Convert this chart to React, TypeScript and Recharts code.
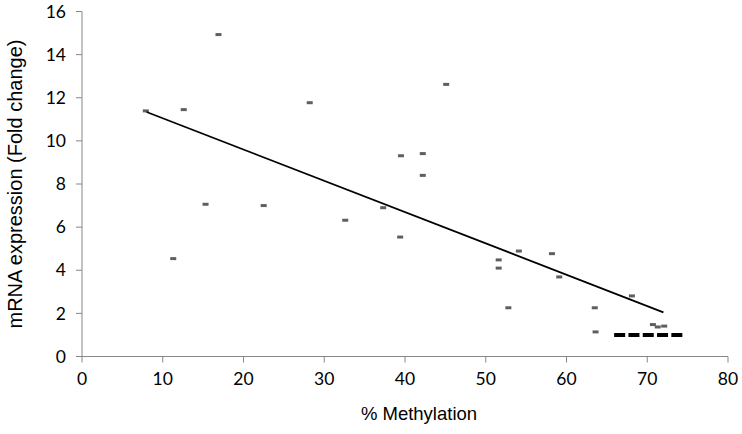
import {
  ComposedChart,
  Scatter,
  XAxis,
  YAxis,
} from "recharts";

// % methylation (x) and mRNA fold change (y) for each sample
const methylation = [
  7.9, 12.6, 16.9, 28.2, 45.1, 39.5, 42.2, 42.2, 11.3, 15.3, 22.5, 32.6, 37.3,
  39.4, 51.6, 51.6, 54.1, 58.2, 59.1, 52.8, 63.5, 63.6, 68.1, 70.7, 71.3, 72.1,
];
const expression = [
  11.39, 11.45, 14.93, 11.77, 12.62, 9.31, 9.41, 8.4, 4.54, 7.06, 7.0, 6.32,
  6.9, 5.54, 4.48, 4.1, 4.89, 4.77, 3.69, 2.26, 2.26, 1.14, 2.81, 1.48, 1.37,
  1.41,
];

// linear trend line end points
const trendX = [8, 72];
const trendY = [11.34, 2.05];

// baseline (fold change = 1) segment
const baseX = [65.9, 74.5];
const baseY = [1, 1];

const xTicks = [0, 10, 20, 30, 40, 50, 60, 70, 80];
const yTicks = [0, 2, 4, 6, 8, 10, 12, 14, 16];

const points = methylation.map((x, i) => ({ x, y: expression[i] }));
const trend = trendX.map((x, i) => ({ x, y: trendY[i] }));
const baseline = baseX.map((x, i) => ({ x, y: baseY[i] }));

const axisColor = "#868686";
const tickFont = { fontFamily: "Lato", fontSize: 17.5, fill: "#000" };

const Dash = (props: any) => (
  <rect x={props.cx - 3} y={props.cy - 1.5} width={6} height={3} fill="#5f5f5f" />
);
const NoDot = () => <g />;

export default function App() {
  return (
    <div style={{ position: "absolute", top: 0, left: 0 }}>
      <ComposedChart
        width={742}
        height={434}
        margin={{ top: 11.5, right: 14, left: 32, bottom: 17.5 }}
      >
        <XAxis
          dataKey="x"
          type="number"
          domain={[0, 80]}
          ticks={xTicks}
          stroke={axisColor}
          tickSize={6}
          tickMargin={10}
          tick={tickFont}
          height={60}
          allowDataOverflow
          label={{
            value: "% Methylation",
            position: "insideBottom",
            offset: -3,
            dx: 14,
            style: { fontFamily: "Liberation Sans", fontSize: 18.5, fill: "#000" },
          }}
        />
        <YAxis
          dataKey="y"
          type="number"
          domain={[0, 16]}
          ticks={yTicks}
          stroke={axisColor}
          tickSize={6}
          tickMargin={10}
          tick={tickFont}
          width={50}
          allowDataOverflow
          label={{
            content: () => (
              <text
                transform="translate(22, 184) rotate(-90)"
                textAnchor="middle"
                fontFamily="Liberation Sans"
                fontSize={20}
                fill="#000"
              >
                mRNA expression (Fold change)
              </text>
            ),
          }}
        />
        <Scatter
          data={points}
          dataKey="y"
          shape={Dash}
          isAnimationActive={false}
        />
        <Scatter
          data={trend}
          dataKey="y"
          shape={NoDot}
          line={{ stroke: "#000", strokeWidth: 1.8 }}
          isAnimationActive={false}
        />
        <Scatter
          data={baseline}
          dataKey="y"
          shape={NoDot}
          line={{ stroke: "#000", strokeWidth: 4, strokeDasharray: "11 3.3" }}
          isAnimationActive={false}
        />
      </ComposedChart>
    </div>
  );
}
